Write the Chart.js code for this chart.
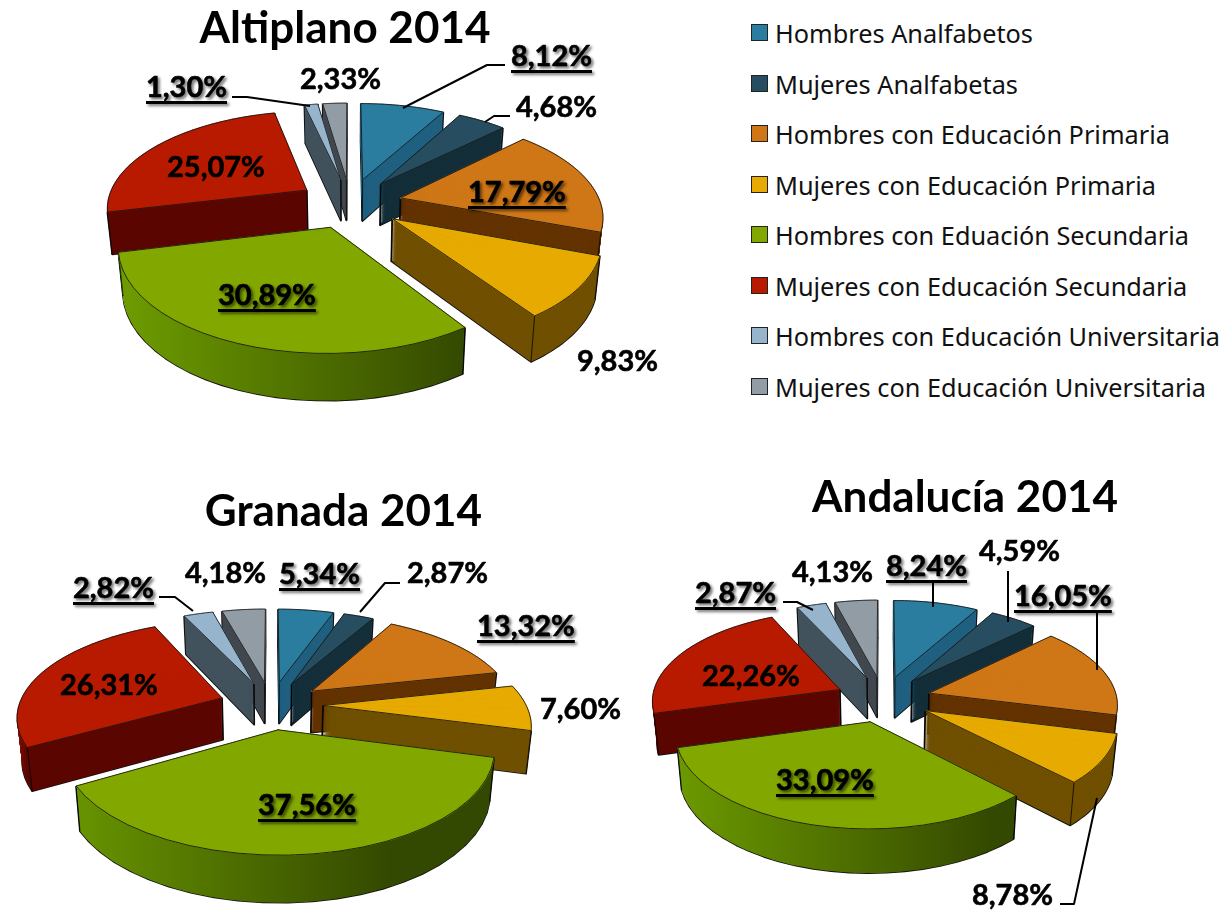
<!DOCTYPE html>
<html lang="es">
<head>
    <meta charset="UTF-8">
    <title>Nivel educativo 2014</title>
    <script src="https://cdn.jsdelivr.net/npm/chart.js"></script>
    <style>
        html, body { margin: 0; width: 1220px; height: 911px; overflow: hidden; background: #fff; }
        canvas { position: absolute; }
        #legend { position: absolute; left: 751px; top: 0; margin: 0; padding: 0; list-style: none; }
        #legend li { position: absolute; left: 0; white-space: nowrap; height: 30px; font: 25.3px/30px "Noto Sans", sans-serif; color: #111; }
        #legend i { position: absolute; left: 0; top: 6px; width: 15px; height: 15px; border: 1.5px solid #222; }
        #legend span { position: absolute; left: 24px; top: 0; }
    </style>
</head>
<body>
    <canvas id="altiplano" width="690" height="460" style="left:0;top:0"></canvas>
    <canvas id="granada" width="687" height="441" style="left:0;top:470px"></canvas>
    <canvas id="andalucia" width="650" height="441" style="left:640px;top:470px"></canvas>
    <ul id="legend"></ul>
    <script>
        const categories = ['Hombres Analfabetos', 'Mujeres Analfabetas', 'Hombres con Educación Primaria',
            'Mujeres con Educación Primaria', 'Hombres con Eduación Secundaria', 'Mujeres con Educación Secundaria',
            'Hombres con Educación Universitaria', 'Mujeres con Educación Universitaria'];
        const altiplanoValues = [8.12, 4.68, 17.79, 9.83, 30.89, 25.07, 1.30, 2.33];
        const granadaValues = [5.34, 2.87, 13.32, 7.60, 37.56, 26.31, 2.82, 4.18];
        const andaluciaValues = [8.24, 4.59, 16.05, 8.78, 33.09, 22.26, 2.87, 4.13];

        const topColors = ['#2b7d9f', '#264e60', '#cf7716', '#e6aa00', '#82a800', '#b81a00', '#96b5cc', '#929ca5'];
        const wallColors = ['#1f6080', '#142f3a', '#643302', '#705000', '#334800', '#5a0500', '#41525c', '#42484f'];
        // only the big front slices fade towards the left: [light colour, start, end] in radii from the centre
        const wallFades = { 4: ['#6c9a00', -1.1, 0.6], 5: ['#a81600', -1.3, -1.2] };

        const legendRows = [33, 83.5, 134, 185, 235, 286, 336, 387];

        // label spots: left x, baseline y, in page pixels
        const altiplanoLabels = [[511, 66], [516, 117], [468, 202], [577, 371], [218, 305], [167, 177], [146, 97], [300, 89]];
        const granadaLabels = [[279, 584], [407, 583], [477, 636], [540, 719], [258, 815], [60, 695], [73, 598], [185, 583]];
        const andaluciaLabels = [[886, 576], [979, 561], [1014, 606], [972, 905], [776, 790], [702, 686], [695, 603], [792, 582]];

        const altiplanoLeaders = [[[505, 65], [487, 65], [403, 108]], [[510, 116], [494, 116], [485, 122]], [[232, 97], [247, 97], [310, 106]]];
        const granadaLeaders = [[[400, 583], [385, 583], [360, 612]], [[159, 597], [175, 597], [193, 611]]];
        const andaluciaLeaders = [[[933, 583], [933, 607]], [[1008, 571], [1008, 622]], [[1097, 613], [1097, 670]],
            [[1060, 904], [1074, 904], [1097, 798]], [[783, 602], [797, 602], [813, 610]]];

        // flat ground point -> canvas pixel, z runs from the top face (0) to the bottom face (1)
        function project(view, gx, gy, z) {
            const w = 1 / (1 - gy / view.persp);
            return {
                x: view.cx - view.left + gx * w * (1 - z * 0.02),
                y: view.cy - view.top + view.tilt * gy * w + z * view.depth * Math.sqrt(w)
            };
        }

        function apexOf(arc) {
            const mid = (arc.startAngle + arc.endAngle) / 2;
            return { x: Math.cos(mid) * arc.options.offset, y: Math.sin(mid) * arc.options.offset };
        }

        // ground point on the rim at a given angle
        function rimPoint(arc, angle, view, z) {
            const o = apexOf(arc);
            return project(view, o.x + arc.outerRadius * Math.cos(angle), o.y + arc.outerRadius * Math.sin(angle), z);
        }

        // affine that sends one thin piece of the library's arc onto the projected slice
        function pieceTransform(arc, from, to, view, z) {
            const r = arc.outerRadius;
            const o = apexOf(arc);
            const p0 = project(view, o.x, o.y, z);
            const p1 = rimPoint(arc, from, view, z);
            const p2 = rimPoint(arc, to, view, z);
            const ux = r * Math.cos(from), uy = r * Math.sin(from);
            const vx = r * Math.cos(to), vy = r * Math.sin(to);
            const det = ux * vy - vx * uy;
            const dux = p1.x - p0.x, duy = p1.y - p0.y, dvx = p2.x - p0.x, dvy = p2.y - p0.y;
            const a = (dux * vy - dvx * uy) / det;
            const c = (dvx * ux - dux * vx) / det;
            const b = (duy * vy - dvy * uy) / det;
            const d = (dvy * ux - duy * vx) / det;
            return { a, b, c, d, e: p0.x - a * arc.x - c * arc.y, f: p0.y - b * arc.x - d * arc.y };
        }

        // fills the arc element piece by piece, each piece with its own affine
        function fillSlice(ctx, arc, view, z, fillFor, seam) {
            const span = arc.endAngle - arc.startAngle;
            const pieces = Math.max(1, Math.ceil(span / (8 * Math.PI / 180)));
            const overlap = 0.006;
            for (let i = 0; i < pieces; i++) {
                const from = arc.startAngle + span * i / pieces;
                const to = arc.startAngle + span * (i + 1) / pieces + (i < pieces - 1 ? overlap : 0);
                const m = pieceTransform(arc, from, to, view, z);
                const fill = fillFor(m);
                const copy = Object.create(arc);
                copy.startAngle = from;
                copy.endAngle = to;
                copy.circumference = to - from;
                copy.options = { ...arc.options, offset: 0, backgroundColor: fill, borderColor: fill, borderWidth: seam };
                ctx.save();
                ctx.transform(m.a, m.b, m.c, m.d, m.e, m.f);
                Chart.elements.ArcElement.prototype.draw.call(copy, ctx);
                ctx.restore();
            }
        }

        function outlineSlice(ctx, arc, view, z) {
            const o = apexOf(arc);
            const p0 = project(view, o.x, o.y, z);
            ctx.beginPath();
            ctx.moveTo(p0.x, p0.y);
            const steps = 24;
            for (let i = 0; i <= steps; i++) {
                const p = rimPoint(arc, arc.startAngle + (arc.endAngle - arc.startAngle) * i / steps, view, z);
                ctx.lineTo(p.x, p.y);
            }
            ctx.closePath();
            ctx.stroke();
        }

        function strokeEdge(ctx, a, b) {
            ctx.beginPath();
            ctx.moveTo(a.x, a.y);
            ctx.lineTo(b.x, b.y);
            ctx.stroke();
        }

        // vertical corners of the wall; rim corners at the back stay hidden unless frontOnly is off
        function edgeLines(ctx, arc, view, frontOnly) {
            const o = apexOf(arc);
            strokeEdge(ctx, project(view, o.x, o.y, 0), project(view, o.x, o.y, 1));
            [arc.startAngle, arc.endAngle].forEach(angle => {
                if (frontOnly && Math.sin(angle) <= 0) return;
                strokeEdge(ctx, rimPoint(arc, angle, view, 0), rimPoint(arc, angle, view, 1));
            });
        }

        // linear gradient that stays horizontal on the page under a piece's affine
        function wallFill(ctx, m, index, view) {
            const fade = wallFades[index];
            if (!fade) return wallColors[index];
            const x0 = view.cx - view.left + fade[1] * view.radius;
            const x1 = view.cx - view.left + fade[2] * view.radius;
            const len = m.a * m.a + m.c * m.c;
            const g = ctx.createLinearGradient(m.a * (x0 - m.e) / len, m.c * (x0 - m.e) / len,
                m.a * (x1 - m.e) / len, m.c * (x1 - m.e) / len);
            g.addColorStop(0, fade[0]);
            g.addColorStop(1, wallColors[index]);
            return g;
        }

        function drawLabel(ctx, text, x, y, strong) {
            ctx.save();
            ctx.font = 'bold 29px Lato';
            ctx.textBaseline = 'alphabetic';
            ctx.fillStyle = '#000';
            ctx.strokeStyle = '#000';
            ctx.lineWidth = 0.6;
            if (strong) {
                ctx.shadowColor = 'rgba(0,0,0,0.55)';
                ctx.shadowBlur = 3;
                ctx.shadowOffsetX = 2;
                ctx.shadowOffsetY = 2;
            }
            ctx.fillText(text, x, y);
            ctx.strokeText(text, x, y);
            if (strong) ctx.fillRect(x, y + 4, ctx.measureText(text).width, 3);
            ctx.restore();
        }

        function makePie(canvasId, title, titleTop, values, labelSpots, leaders, view) {
            const pie3d = {
                id: 'pie3d',
                beforeDatasetsDraw(chart) {
                    const ctx = chart.ctx;
                    const arcs = chart.getDatasetMeta(0).data.map((arc, index) => ({ arc, index }));
                    arcs.sort((p, q) => Math.sin((p.arc.startAngle + p.arc.endAngle) / 2) - Math.sin((q.arc.startAngle + q.arc.endAngle) / 2));
                    arcs.forEach(({ arc, index }) => {
                        // dark outline first so only its outer half survives the wall fill
                        ctx.strokeStyle = '#111';
                        ctx.lineWidth = 1.8;
                        ctx.lineJoin = 'round';
                        outlineSlice(ctx, arc, view, 1);
                        edgeLines(ctx, arc, view, false);
                        const layers = Math.ceil(view.depth * 1.5);
                        for (let i = layers; i > 0; i--) {
                            fillSlice(ctx, arc, view, i / layers, m => wallFill(ctx, m, index, view), 0);
                        }
                        ctx.strokeStyle = 'rgba(0,0,0,0.75)';
                        ctx.lineWidth = 1;
                        edgeLines(ctx, arc, view, true);
                        fillSlice(ctx, arc, view, 0, () => topColors[index], 1);
                        ctx.strokeStyle = 'rgba(20,20,20,0.85)';
                        ctx.lineWidth = 1;
                        outlineSlice(ctx, arc, view, 0);
                    });
                    return false;
                },
                afterDraw(chart) {
                    const ctx = chart.ctx;
                    ctx.strokeStyle = '#000';
                    ctx.lineWidth = 2;
                    leaders.forEach(line => {
                        ctx.beginPath();
                        line.forEach((p, i) => {
                            if (i === 0) ctx.moveTo(p[0] - view.left, p[1] - view.top);
                            else ctx.lineTo(p[0] - view.left, p[1] - view.top);
                        });
                        ctx.stroke();
                    });
                    values.forEach((v, i) => {
                        const text = v.toFixed(2).replace('.', ',') + '%';
                        drawLabel(ctx, text, labelSpots[i][0] - view.left, labelSpots[i][1] - view.top, i % 2 === 0);
                    });
                }
            };

            new Chart(document.getElementById(canvasId), {
                type: 'pie',
                data: {
                    labels: categories,
                    datasets: [{
                        data: values,
                        backgroundColor: topColors,
                        borderColor: '#1a1a1a',
                        borderWidth: 1,
                        offset: view.explode
                    }]
                },
                options: {
                    responsive: false,
                    animation: false,
                    events: [],
                    radius: view.radius,
                    plugins: {
                        legend: { display: false },
                        tooltip: { enabled: false },
                        title: {
                            display: true,
                            text: title,
                            color: '#000',
                            font: { family: 'Lato', size: 44, weight: 'bold' },
                            padding: { top: titleTop, bottom: 0 }
                        }
                    }
                },
                plugins: [pie3d]
            });
        }

        makePie('altiplano', 'Altiplano 2014', 2, altiplanoValues, altiplanoLabels, altiplanoLeaders,
            { left: 0, top: 0, cx: 350, cy: 203, radius: 200, persp: 1200, tilt: 0.48, explode: 52, depth: 42 });
        makePie('granada', 'Granada 2014', 15, granadaValues, granadaLabels, granadaLeaders,
            { left: 0, top: 470, cx: 271, cy: 705, radius: 203, persp: 1155, tilt: 0.46, explode: 52, depth: 42 });
        makePie('andalucia', 'Andalucía 2014', 1, andaluciaValues, andaluciaLabels, andaluciaLeaders,
            { left: 640, top: 470, cx: 883, cy: 699, radius: 188, persp: 1700, tilt: 0.478, explode: 48, depth: 41 });

        // legend list built from the same categories and colours
        const legend = document.getElementById('legend');
        categories.forEach((name, i) => {
            const li = document.createElement('li');
            li.style.top = (legendRows[i] - 15) + 'px';
            li.innerHTML = '<i style="background:' + topColors[i] + '"></i><span>' + name + '</span>';
            legend.appendChild(li);
        });
    </script>
</body>
</html>
